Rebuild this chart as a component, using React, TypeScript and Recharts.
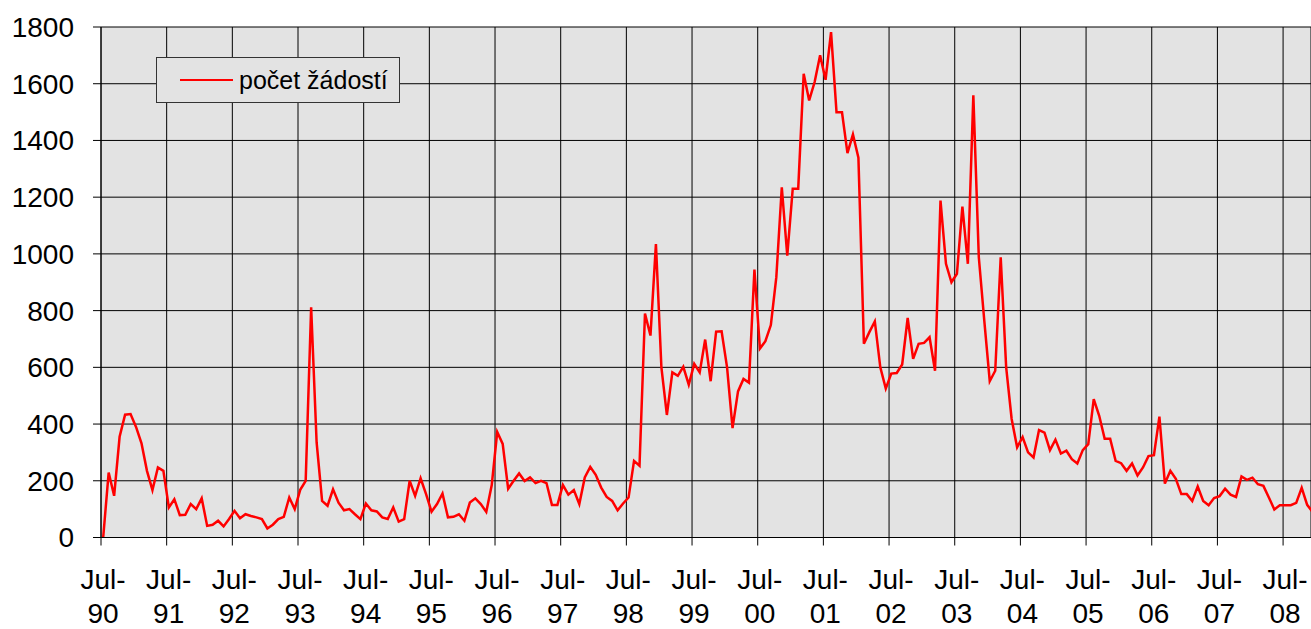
import { LineChart, Line, XAxis, YAxis, CartesianGrid, Legend } from "recharts";

// monthly counts, Jul-90 .. Dec-08 (12 per row, each row starts in July)
const requests = [
  0, 229, 147, 355, 433, 435, 390, 332, 235, 167, 247, 235,
  106, 135, 79, 80, 118, 100, 138, 41, 45, 59, 39, 65,
  94, 68, 82, 76, 71, 65, 32, 45, 65, 73, 141, 100,
  168, 200, 812, 335, 129, 112, 170, 123, 96, 100, 82, 65,
  120, 96, 92, 71, 65, 106, 56, 65, 200, 147, 209, 153,
  91, 118, 155, 71, 73, 82, 59, 123, 138, 118, 90, 185,
  372, 330, 172, 200, 226, 199, 212, 192, 200, 192, 115, 115,
  185, 151, 167, 118, 212, 249, 221, 176, 143, 129, 96, 120,
  141, 270, 253, 790, 712, 1035, 600, 432, 582, 570, 602, 539,
  612, 582, 698, 551, 726, 727, 600, 386, 515, 559, 546, 945,
  666, 692, 749, 918, 1235, 994, 1230, 1230, 1635, 1541, 1606, 1700,
  1614, 1782, 1499, 1499, 1355, 1421, 1339, 683, 724, 762, 600, 525,
  578, 580, 610, 774, 630, 683, 686, 706, 588, 1188, 965, 900,
  930, 1167, 965, 1559, 988, 765, 551, 588, 988, 600, 418, 318,
  354, 300, 282, 379, 370, 308, 345, 296, 306, 276, 261, 308,
  329, 488, 429, 348, 348, 270, 262, 235, 261, 219, 247, 287,
  290, 426, 190, 235, 207, 153, 153, 129, 180, 129, 114, 139,
  146, 172, 151, 143, 215, 203, 211, 188, 182, 141, 99, 114,
  114, 114, 122, 175, 115, 90,
];

const yearLabels = [
  "90", "91", "92", "93", "94", "95", "96", "97", "98", "99",
  "00", "01", "02", "03", "04", "05", "06", "07", "08",
];

const yTicks = [0, 200, 400, 600, 800, 1000, 1200, 1400, 1600, 1800];

const seriesName = "počet žádostí";

// points sit a bit after the July gridline
const OFFSET = 0.4;
const data = requests.map((v, i) => ({ t: i + OFFSET, value: v }));
const xTicks = yearLabels.map((_, k) => k * 12);

const FONT = "'Liberation Sans', Arial, sans-serif";

function YearTick(props: any) {
  const { x, y, payload } = props;
  const label = yearLabels[Math.round(payload.value / 12)];
  return (
    <text x={x + 2} y={y} textAnchor="middle" fontSize={28} fontFamily={FONT} fill="#000">
      <tspan x={x + 2} y={y + 41}>Jul-</tspan>
      <tspan x={x + 2} y={y + 75}>{label}</tspan>
    </text>
  );
}

function LegendBox() {
  return (
    <div
      style={{
        width: 244,
        height: 46,
        boxSizing: "border-box",
        border: "1px solid #333",
        background: "#e3e3e3",
        display: "flex",
        alignItems: "center",
        fontFamily: FONT,
        fontSize: 25,
        color: "#000",
      }}
    >
      <span
        style={{
          display: "inline-block",
          width: 53,
          height: 2.5,
          background: "#ff0000",
          marginLeft: 23,
          marginRight: 6,
        }}
      />
      <span>{seriesName}</span>
    </div>
  );
}

export default function App() {
  return (
    <div
      style={{
        position: "absolute",
        left: 0,
        top: 0,
        width: 1311,
        height: 629,
        overflow: "hidden",
        background: "#fff",
      }}
    >
      <LineChart
        width={1311}
        height={629}
        data={data}
        margin={{ top: 27, right: 0, bottom: 0, left: 0 }}
      >
        <CartesianGrid stroke="#000" fill="#e3e3e3" strokeWidth={1} />
        <XAxis
          dataKey="t"
          type="number"
          domain={[0, 221.1]}
          allowDataOverflow
          ticks={xTicks}
          interval={0}
          height={91.5}
          tickSize={8}
          tickLine={{ stroke: "#000" }}
          axisLine={{ stroke: "#000" }}
          tick={<YearTick />}
        />
        <YAxis
          domain={[0, 1800]}
          ticks={yTicks}
          interval={0}
          width={101}
          tickSize={8}
          tickMargin={19}
          tickLine={{ stroke: "#000" }}
          axisLine={{ stroke: "#000" }}
          tick={{ fill: "#000", fontSize: 28, fontFamily: FONT }}
        />
        <Legend
          layout="horizontal"
          verticalAlign="middle"
          align="center"
          content={<LegendBox />}
          wrapperStyle={{ position: "absolute", left: 156, top: 57, width: 244, height: 46 }}
        />
        <Line
          type="linear"
          dataKey="value"
          name={seriesName}
          stroke="#ff0000"
          strokeWidth={2.5}
          dot={false}
          isAnimationActive={false}
        />
      </LineChart>
    </div>
  );
}
